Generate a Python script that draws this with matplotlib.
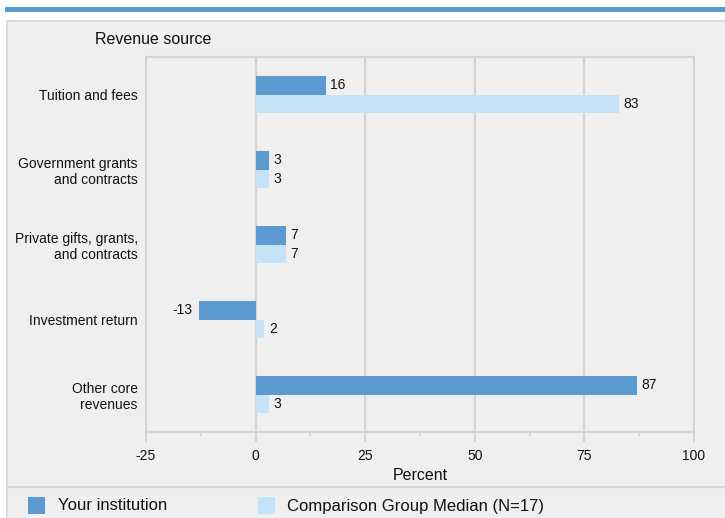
import matplotlib
matplotlib.use("Agg")
import matplotlib.pyplot as plt
from matplotlib.patches import Rectangle
from matplotlib.lines import Line2D
from matplotlib.ticker import MultipleLocator

plt.rcParams['font.family'] = ['Liberation Sans', 'DejaVu Sans']

categories = ["Tuition and fees", "Government grants\nand contracts",
              "Private gifts, grants,\nand contracts", "Investment return",
              "Other core\nrevenues"]
your_inst = [16, 3, 7, -13, 87]
comparison = [83, 3, 7, 2, 3]
series_names = ["Your institution", "Comparison Group Median (N=17)"]
xticks = [-25, 0, 25, 50, 75, 100]

dark = "#5b9bd1"
light = "#c5e3f6"
panel = "#efefef"
grid = "#d4d4d4"

W, H = 725, 518
fig = plt.figure(figsize=(W/100, H/100), dpi=100, facecolor="white")

# top blue band
fig.patches.append(Rectangle((5/W, 1-12/H), 1, 5/H, transform=fig.transFigure,
                             facecolor=dark, edgecolor="none", zorder=-2))
# gray panel
fig.patches.append(Rectangle((7/W, -0.01), 1, 1-21/H+0.01, transform=fig.transFigure,
                             facecolor=panel, edgecolor="#d6d6d6", linewidth=1.2, zorder=-2))
# separator above legend
fig.lines.append(Line2D([7/W, 1], [1-487/H, 1-487/H], transform=fig.transFigure,
                        color="#d6d6d6", linewidth=1.5, zorder=-1))

ax = fig.add_axes([146/W, 1-432/H, (694-146)/W, (432-57)/H])
ax.set_zorder(1)
ax.set_facecolor(panel)
n = len(categories)
ys = list(range(n))
h = 0.25
ax.barh([y - h/2 for y in ys], your_inst, height=h, color=dark, zorder=3)
ax.barh([y + h/2 for y in ys], comparison, height=h, color=light, zorder=3)

fs = 10
for y, v in zip(ys, your_inst):
    if v >= 0:
        ax.text(v + 1, y - h/2, str(v), va="center", ha="left", fontsize=fs, color="#111")
    else:
        ax.text(v - 1.5, y - h/2, str(v), va="center", ha="right", fontsize=fs, color="#111")
for y, v in zip(ys, comparison):
    ax.text(v + 1, y + h/2, str(v), va="center", ha="left", fontsize=fs, color="#111")

ax.set_ylim(n - 0.5, -0.5)
ax.set_xlim(-25, 100)
ax.set_yticks(ys)
ax.set_yticklabels(categories, fontsize=fs, color="#111")
ax.tick_params(axis="y", length=0, pad=6)
ax.set_xticks(xticks)
ax.set_xticklabels([str(t) for t in xticks], fontsize=fs, color="#111")
ax.xaxis.set_minor_locator(MultipleLocator(12.5))
ax.tick_params(axis="x", which="major", length=7, width=1.3, color=grid, pad=5)
ax.tick_params(axis="x", which="minor", length=3, width=1.3, color=grid)
ax.grid(axis="x", which="major", color=grid, linewidth=1.5, zorder=0)
for s in ax.spines.values():
    s.set_color(grid)
    s.set_linewidth(1.5)
ax.set_xlabel("Percent", fontsize=11.5, color="#111", labelpad=4)

fig.text(95/W, 1-40/H, "Revenue source", fontsize=11.5, color="#111", va="center", ha="left")

# legend
fig.patches.append(Rectangle((28/W, 1-514/H), 17/W, 17/H, transform=fig.transFigure,
                             facecolor=dark, edgecolor="none"))
fig.text(58/W, 1-506/H, series_names[0], fontsize=12, color="#111", va="center")
fig.patches.append(Rectangle((258/W, 1-514/H), 17/W, 17/H, transform=fig.transFigure,
                             facecolor=light, edgecolor="none"))
fig.text(287/W, 1-506/H, series_names[1], fontsize=12, color="#111", va="center")

fig.savefig("out.png", dpi=100, facecolor="white")
